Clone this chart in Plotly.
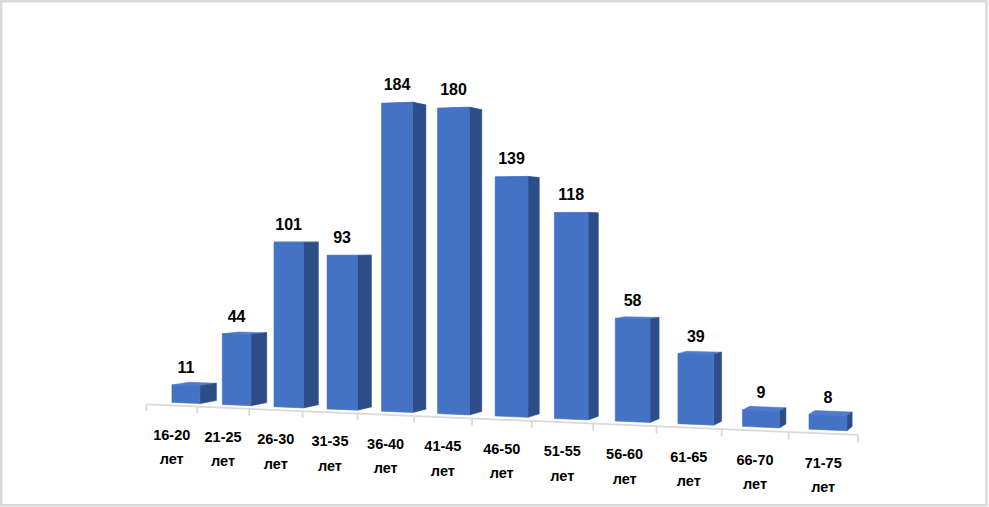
import math
import plotly.graph_objects as go

# ---- data ----
categories = ["16-20", "21-25", "26-30", "31-35", "36-40", "41-45",
              "46-50", "51-55", "56-60", "61-65", "66-70", "71-75"]
unit_label = "лет"
values = [11, 44, 101, 93, 184, 180, 139, 118, 58, 39, 9, 8]

# ---- perspective camera (Excel-like 3D column chart) ----
FIG_W, FIG_H = 989, 507
FOCAL = 1569.0
CX, CY = 495.0, 240.4
THETA = math.atan(0.3754)
COS_T, SIN_T = math.cos(THETA), math.sin(THETA)
PITCH = 0.03667
X_OFF = -0.2059
CAM_H = 162.0 / FOCAL
VAL_SCALE = 1.587 / FOCAL
BAR_W = 0.5586
BAR_D = 0.55
GAP = 1 - BAR_W
AXIS_Z = -0.45
TICK_LEN = 4.0

FRONT = "#4472C4"
SIDE = "#2C4D88"
TOP = "#4F7BCB"
AXIS_COLOR = "#D9D9D9"
FONT = "Liberation Sans, Arial, sans-serif"


def project(X, Z, v):
    px = X_OFF + PITCH * (X * COS_T + Z * SIN_T)
    pz = 1 + PITCH * (-X * SIN_T + Z * COS_T)
    py = v * VAL_SCALE - CAM_H
    return CX + FOCAL * px / pz, CY - FOCAL * py / pz


def face(points):
    xs, ys = [], []
    for X, Z, v in points:
        sx, sy = project(X, Z, v)
        xs.append(sx)
        ys.append(sy)
    xs.append(xs[0]); ys.append(ys[0])
    return xs, ys


tops_x, tops_y, sides_x, sides_y, fronts_x, fronts_y = [], [], [], [], [], []
for i, v in enumerate(values):
    x0, x1 = i, i + BAR_W
    fx, fy = face([(x0, 0, 0), (x1, 0, 0), (x1, 0, v), (x0, 0, v)])
    sx_, sy_ = face([(x1, 0, 0), (x1, BAR_D, 0), (x1, BAR_D, v), (x1, 0, v)])
    tx, ty = face([(x0, 0, v), (x1, 0, v), (x1, BAR_D, v), (x0, BAR_D, v)])
    fronts_x += fx + [None]; fronts_y += fy + [None]
    sides_x += sx_ + [None]; sides_y += sy_ + [None]
    tops_x += tx + [None]; tops_y += ty + [None]

fig = go.Figure()

# category axis line and ticks
n = len(values)
ax_start = project(-GAP / 2, AXIS_Z, 0)
ax_end = project(n - 1 + BAR_W + GAP / 2, AXIS_Z, 0)
axis_x = [ax_start[0], ax_end[0], None]
axis_y = [ax_start[1], ax_end[1], None]
for k in range(n + 1):
    a = project(k - GAP / 2, AXIS_Z, 0)
    b = project(k - GAP / 2, AXIS_Z, -TICK_LEN)
    axis_x += [a[0], b[0], None]
    axis_y += [a[1], b[1], None]
fig.add_trace(go.Scatter(x=axis_x, y=axis_y, mode="lines",
                         line=dict(color=AXIS_COLOR, width=1.8),
                         hoverinfo="skip"))

for xs, ys, col in [(tops_x, tops_y, TOP), (sides_x, sides_y, SIDE),
                    (fronts_x, fronts_y, FRONT)]:
    fig.add_trace(go.Scatter(x=xs, y=ys, mode="lines", fill="toself",
                             fillcolor=col, line=dict(color=col, width=0.6),
                             hoverinfo="skip"))

# value labels
lab_x, lab_y = [], []
for i, v in enumerate(values):
    sx, sy = project(i + BAR_W / 2, 0, v)
    lab_x.append(sx)
    lab_y.append(sy - 16.5)
fig.add_trace(go.Scatter(x=lab_x, y=lab_y, mode="text",
                         text=[str(v) for v in values],
                         textposition="middle center",
                         textfont=dict(family=FONT, size=16, color="#000000", weight=700),
                         hoverinfo="skip"))

# category labels (two lines)
c_x, c_y1, c_y2 = [], [], []
for i in range(n):
    sx, sy = project(i + BAR_W / 2, AXIS_Z, 0)
    c_x.append(sx)
    c_y1.append(sy + 30.5)
    c_y2.append(sy + 55)
fig.add_trace(go.Scatter(x=c_x, y=c_y1, mode="text", text=categories,
                         textposition="middle center",
                         textfont=dict(family=FONT, size=14.5, color="#000000", weight=700),
                         hoverinfo="skip"))
fig.add_trace(go.Scatter(x=c_x, y=c_y2, mode="text", text=[unit_label] * n,
                         textposition="middle center",
                         textfont=dict(family=FONT, size=14.5, color="#000000", weight=700),
                         hoverinfo="skip"))

fig.update_layout(
    width=FIG_W, height=FIG_H,
    margin=dict(l=0, r=0, t=0, b=0),
    paper_bgcolor="white", plot_bgcolor="white",
    showlegend=False,
    xaxis=dict(range=[0, FIG_W], visible=False, fixedrange=True),
    yaxis=dict(range=[FIG_H, 0], visible=False, fixedrange=True),
    shapes=[dict(type="rect", xref="x", yref="y", x0=1.2, y0=1.2, x1=986.5, y1=505.3,
                 line=dict(color=AXIS_COLOR, width=2.5), fillcolor="rgba(0,0,0,0)",
                 layer="above")],
)

fig.write_html(
    "out.html",
    config={"displayModeBar": False, "staticPlot": True},
    post_script="document.body.style.margin='0';document.body.style.overflow='hidden';",
)
